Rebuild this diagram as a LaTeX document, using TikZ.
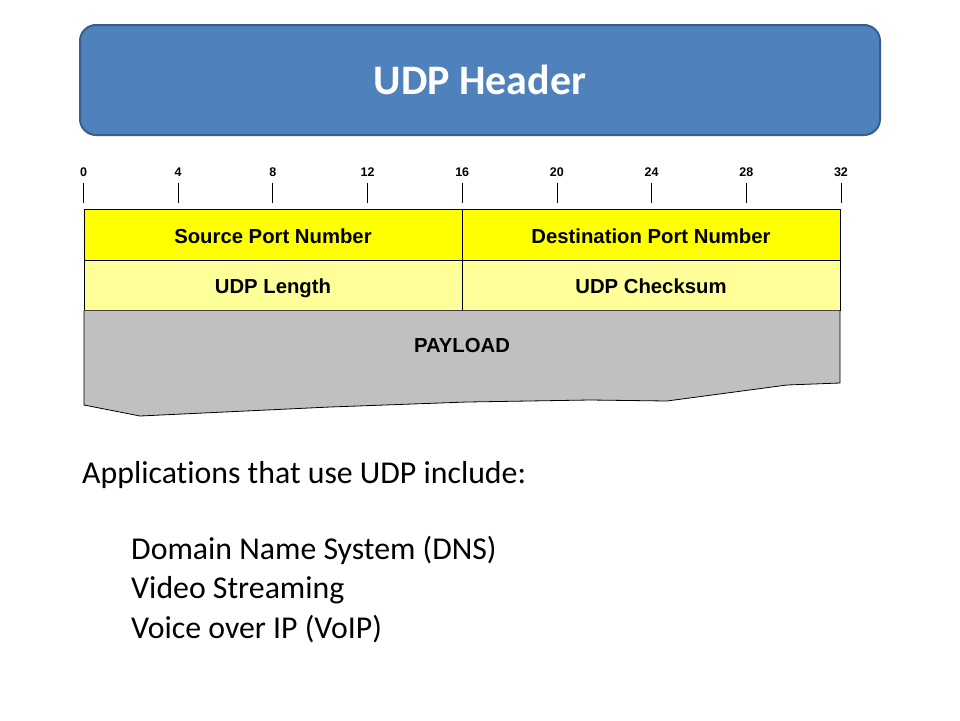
\documentclass[tikz,border=0pt]{standalone}
\usepackage{fontspec}
\setmainfont{Carlito}[Ligatures=NoCommon]
\newfontfamily\hdrfont{Liberation Sans}
\usetikzlibrary{positioning}
\definecolor{titleblue}{HTML}{4F81BD}
\definecolor{titleedge}{HTML}{385D8A}
\definecolor{fieldyellow}{HTML}{FFFF00}
\definecolor{fieldpale}{HTML}{FFFF99}
\definecolor{payloadgray}{HTML}{C0C0C0}
\tikzstyle{titlebox}=[draw=titleedge, line width=2pt, fill=titleblue, rounded corners=16pt, minimum width=800pt, minimum height=110pt, text=white, font=\bfseries\fontsize{42}{48}\selectfont]
\tikzstyle{field}=[draw=black, line width=0.8pt, outer sep=0pt, inner sep=0pt, minimum width=378pt, minimum height=51pt, text height=19pt, text depth=3pt, font=\hdrfont\bfseries\fontsize{20.3}{24}\selectfont]
\tikzstyle{bitlabel}=[inner sep=1pt, font=\hdrfont\bfseries\fontsize{12.5}{14}\selectfont]
\tikzstyle{appline}=[anchor=base west, inner sep=0pt, font=\fontsize{31.8}{38}\selectfont]

\begin{document}
\begin{tikzpicture}[x=1pt,y=-1pt]
		\useasboundingbox[fill=white] (0,0) rectangle (960,720);
		\node[titlebox] (hdr) at (480,80) {UDP Header};
		
		% bit ruler
		\foreach \b in {0,4,...,32} {
			\coordinate (tk\b) at ({83.5+\b*23.67},203);
			\node[bitlabel, anchor=south] (lab\b) at ([yshift=25pt]tk\b) {\b};
			\draw[line width=0.8pt] (tk\b) -- ([yshift=20pt]tk\b);
		}
		
		\node[field, fill=fieldyellow] (srcport) at (273,235) {Source Port Number};
		\node[field, fill=fieldyellow, right=0pt of srcport] (dstport) {Destination Port Number};
		\node[field, fill=fieldpale, minimum height=50pt, below=0pt of srcport] (udplen) {UDP Length};
		\node[field, fill=fieldpale, minimum height=50pt, below=0pt of dstport] (udpsum) {UDP Checksum};
		
		\begin{scope}[on background layer/.try]
		\draw[fill=payloadgray, line width=0.8pt] (udplen.south west) -- (84,405) -- (140,416) -- (330,407) -- (467,402) -- (590,400) -- (667,401) -- (787,385) -- (840,383) -- (udpsum.south east);
		\end{scope}
		\node[field, draw=none, minimum height=0pt] (payload) at (462,344) {PAYLOAD};
		
		\node[appline] (apps) at (82,483) {Applications that use UDP include:};
		\node[appline] (dns) at (131,559) {Domain Name System (DNS)};
		\node[appline] (video) at ([yshift=-39pt]dns.base west) {Video Streaming};
		\node[appline] (voip) at ([yshift=-40pt]video.base west) {Voice over IP (VoIP)};
		
\end{tikzpicture}
\end{document}
